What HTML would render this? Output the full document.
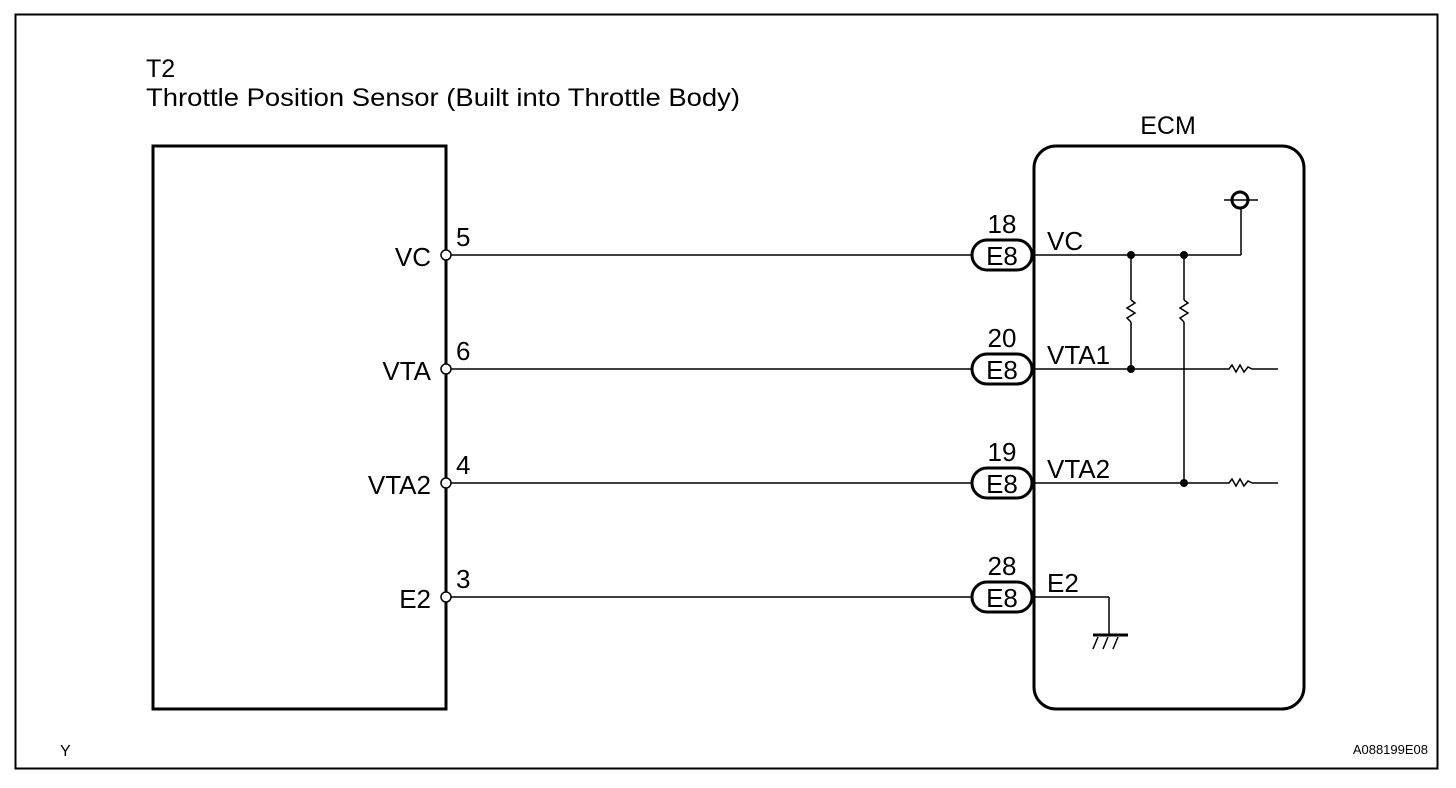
<!DOCTYPE html>
<html><head><style>html,body{margin:0;padding:0;background:#fff}svg{display:block}text{font-family:"Liberation Sans",sans-serif;fill:#000}</style></head>
<body>
<svg width="1456" height="788" viewBox="0 0 1456 788" xmlns="http://www.w3.org/2000/svg">
<rect x="15.5" y="14.5" width="1422" height="754" fill="none" stroke="#000" stroke-width="2"/>
<text x="146" y="77" font-size="25">T2</text>
<text x="146" y="106" font-size="25" textLength="594" lengthAdjust="spacingAndGlyphs">Throttle Position Sensor (Built into Throttle Body)</text>
<text x="1168" y="134" font-size="25" text-anchor="middle">ECM</text>
<rect x="153" y="146" width="293" height="563" fill="none" stroke="#000" stroke-width="3"/>
<rect x="1034" y="146" width="270" height="563" rx="22" fill="none" stroke="#000" stroke-width="3"/>
<g stroke="#000" stroke-width="1.5" fill="none">
<line x1="451" y1="255" x2="972" y2="255"/><line x1="451" y1="369" x2="972" y2="369"/>
<line x1="451" y1="483" x2="972" y2="483"/><line x1="451" y1="597" x2="972" y2="597"/>
<line x1="1034" y1="255" x2="1241" y2="255"/><line x1="1241" y1="255" x2="1241" y2="209"/>
<line x1="1224" y1="200" x2="1258" y2="200"/>
<line x1="1034" y1="369" x2="1226" y2="369"/><line x1="1252" y1="369" x2="1278" y2="369"/>
<line x1="1034" y1="483" x2="1226" y2="483"/><line x1="1252" y1="483" x2="1278" y2="483"/>
<polyline points="1226,369 1229,369 1232,365 1236,372 1240,365 1244,372 1248,367 1252,369"/>
<polyline points="1226,483 1229,483 1232,479 1236,486 1240,479 1244,486 1248,481 1252,483"/>
<line x1="1131" y1="255" x2="1131" y2="300"/><line x1="1131" y1="322" x2="1131" y2="369"/>
<polyline points="1131,300 1135,303 1127,308 1135,313 1127,318 1131,322"/>
<line x1="1184" y1="255" x2="1184" y2="300"/><line x1="1184" y1="322" x2="1184" y2="483"/>
<polyline points="1184,300 1188,303 1180,308 1188,313 1180,318 1184,322"/>
<line x1="1034" y1="597" x2="1109" y2="597"/><line x1="1109" y1="597" x2="1109" y2="635"/>
<line x1="1093" y1="635" x2="1128" y2="635" stroke-width="3"/>
<line x1="1098" y1="637" x2="1093" y2="649"/><line x1="1108" y1="637" x2="1103" y2="649"/><line x1="1118" y1="637" x2="1113" y2="649"/>
</g>
<circle cx="1240" cy="200" r="8" fill="none" stroke="#000" stroke-width="3"/>
<g fill="#000"><circle cx="1131" cy="255" r="4"/><circle cx="1184" cy="255" r="4"/><circle cx="1131" cy="369" r="4"/><circle cx="1184" cy="483" r="4"/></g>
<g fill="#fff" stroke="#000" stroke-width="1.5"><circle cx="446" cy="255" r="5"/><circle cx="446" cy="369" r="5"/><circle cx="446" cy="483" r="5"/><circle cx="446" cy="597" r="5"/></g>
<g fill="none" stroke="#000" stroke-width="3">
<rect x="972" y="240" width="60" height="30" rx="15"/><rect x="972" y="354" width="60" height="30" rx="15"/>
<rect x="972" y="468" width="60" height="30" rx="15"/><rect x="972" y="582" width="60" height="30" rx="15"/>
</g>
<g font-size="26">
<text x="1002" y="265" text-anchor="middle">E8</text><text x="1002" y="379" text-anchor="middle">E8</text>
<text x="1002" y="493" text-anchor="middle">E8</text><text x="1002" y="607" text-anchor="middle">E8</text>
<text x="1002" y="233" text-anchor="middle">18</text><text x="1002" y="347" text-anchor="middle">20</text>
<text x="1002" y="461" text-anchor="middle">19</text><text x="1002" y="575" text-anchor="middle">28</text>
<text x="1047" y="250">VC</text><text x="1047" y="364">VTA1</text><text x="1047" y="478">VTA2</text><text x="1047" y="592">E2</text>
<text x="431" y="266" text-anchor="end">VC</text><text x="431" y="380" text-anchor="end">VTA</text>
<text x="431" y="494" text-anchor="end">VTA2</text><text x="431" y="608" text-anchor="end">E2</text>
<text x="456" y="246">5</text><text x="456" y="360">6</text><text x="456" y="474">4</text><text x="456" y="588">3</text>
</g>
<text x="60" y="756" font-size="16">Y</text>
<text x="1428" y="754" font-size="13" text-anchor="end">A088199E08</text>
</svg>
</body></html>
